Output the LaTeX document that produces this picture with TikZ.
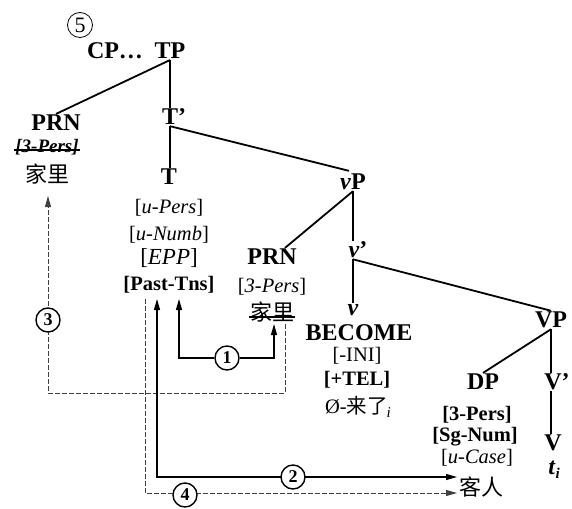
\documentclass[tikz,border=0pt]{standalone}
\usepackage{fontspec}
\setmainfont{Liberation Serif}
\newfontfamily\cjk{Noto Sans CJK SC}
\usetikzlibrary{arrows.meta,calc}
\begin{document}
\begin{tikzpicture}[x=1pt,y=-1pt,
 lbl/.style={font=\fontsize{24}{24}\selectfont\bfseries, inner sep=1pt},
 feat/.style={font=\fontsize{20.5}{20.5}\selectfont, inner sep=1pt},
 featb/.style={font=\fontsize{20.5}{20.5}\selectfont\bfseries, inner sep=1pt},
 zh/.style={font=\fontsize{22}{22}\selectfont\cjk, inner sep=1pt},
 branch/.style={line width=1.8pt},
 strike/.style={line width=1.2pt},
 num/.style={circle, draw, line width=1.4pt, inner sep=0pt, minimum size=24pt, fill=white, font=\fontsize{18}{18}\selectfont\bfseries},
 solidarr/.style={line width=1.2pt},
 dasharr/.style={line width=0.9pt, dash pattern=on 5pt off 2pt, black!75},
 tipb/.style={-{Triangle[length=11pt,width=6pt]}},
 tipbb/.style={{Triangle[length=11pt,width=6pt]}-{Triangle[length=11pt,width=6pt]}}
]
\useasboundingbox[fill=white] (0,0) rectangle (572,508);

% tree nodes
\node[circle, draw, line width=0.8pt, inner sep=0pt, minimum size=25pt, font=\fontsize{22}{22}\selectfont] (n5) at (80,25) {5};
\node[lbl] (CP) at (115,51) {CP\ldots};
\node[lbl] (TP) at (170,51) {TP};
\node[lbl] (PRN1) at (56,123) {PRN};
\node[feat, font=\fontsize{19}{19}\selectfont\bfseries\itshape] (pers1) at (47,147) {[3-Pers]};
\node[zh] (jia1) at (47,174) {家里};
\node[lbl] (Tbar) at (174,117) {T’};
\node[lbl] (T) at (169,177) {T};
\node[feat] (uPers) at (169,208) {[\textit{u-Pers}]};
\node[feat] (uNumb) at (169,235) {[\textit{u-Numb}]};
\node[feat, font=\fontsize{23}{23}\selectfont] (EPP) at (169,258) {[\textit{EPP}]};
\node[featb] (Past) at (169,285) {[Past-Tns]};
\node[lbl] (vP) at (353,182) {\textit{v}P};
\node[lbl] (PRN2) at (272,257) {PRN};
\node[feat] (pers2) at (272,287) {[\textit{3-Pers}]};
\node[zh] (jia2) at (272,312) {家里};
\node[lbl] (vbar) at (358,250) {\textit{v}’};
\node[lbl] (v) at (353,310) {\textit{v}};
\node[lbl] (BEC) at (359,333) {BECOME};
\node[feat] (INI) at (357,356) {[-INI]};
\node[featb] (TEL) at (357,380) {[+TEL]};
\node[feat] (lai) at (358,407) {Ø-{\cjk 来了}\kern-1pt\raisebox{-0.4ex}{\fontsize{15}{15}\selectfont\itshape i}};
\node[lbl] (VP) at (551,320) {VP};
\node[lbl] (DP) at (483,382) {DP};
\node[lbl] (Vbar) at (557,382) {V’};
\node[featb] (pers3) at (477,415) {[3-Pers]};
\node[featb] (Sg) at (475,437) {[Sg-Num]};
\node[feat] (Case) at (477,458) {[\textit{u-Case}]};
\node[zh] (ke) at (481,487) {客人};
\node[lbl] (V) at (553,443) {V};
\node[lbl] (ti) at (554,470) {\textit{t}\raisebox{-0.4ex}{\fontsize{15}{15}\selectfont\itshape i}};

% strikes
\draw[strike] ($(pers1.west)+(0,3)$) -- ($(pers1.east)+(0,3)$);
\draw[strike] ($(jia2.west)+(0,5)$) -- ($(jia2.east)+(0,5)$);

% branches
\draw[branch] (TP.south) -- (PRN1.north);
\draw[branch] (TP.south) -- (TP.south |- Tbar.north);
\draw[branch] (TP.south |- Tbar.south) -- (TP.south |- T.north);
\draw[branch] (TP.south |- Tbar.south) -- ($(vP.north)+(-4,-2)$);
\draw[branch] (vP.south) -- ($(PRN2.north)!0.5!(PRN2.north east)$);
\draw[branch] (vP.south) -- (vP.south |- vbar.north);
\draw[branch] (vP.south |- vbar.south) -- (vP.south |- v.north);
\draw[branch] (vP.south |- vbar.south) -- (VP.north);
\draw[branch] (VP.south) -- (DP.north);
\draw[branch] (VP.south) -- (VP.south |- Vbar.north);
\draw[branch] (VP.south |- Vbar.south) -- (VP.south |- V.north);

% arrow end points
\coordinate (pastL) at (145,299);
\coordinate (pastM) at (157,299);
\coordinate (pastR) at (179,299);
\coordinate (jiaB) at (274,324);
\coordinate (jiaD) at (285,324);
\coordinate (corner3) at (48,393);
\coordinate (jia1B) at (48,196);
\coordinate (k2) at (457,477);
\coordinate (k4) at (457,493);

% dashed paths
\draw[dasharr] (jiaD) |- (corner3) -- (48,320);
\draw[dasharr, tipb] (48,320) -- (jia1B);
\draw[dasharr, tipb] (pastL) |- (k4);
% solid paths
\draw[solidarr, tipbb] (pastM) |- (k2);

\node[num] (c1) at (227,358) {1};
\node[num] (c2) at (293,477) {2};
\node[num] (c3) at (48,320) {3};
\node[num] (c4) at (185,495) {4};

\draw[solidarr, tipb] (c1) -| (pastR);
\draw[solidarr, tipb] (c1) -| (jiaB);
\end{tikzpicture}
\end{document}
